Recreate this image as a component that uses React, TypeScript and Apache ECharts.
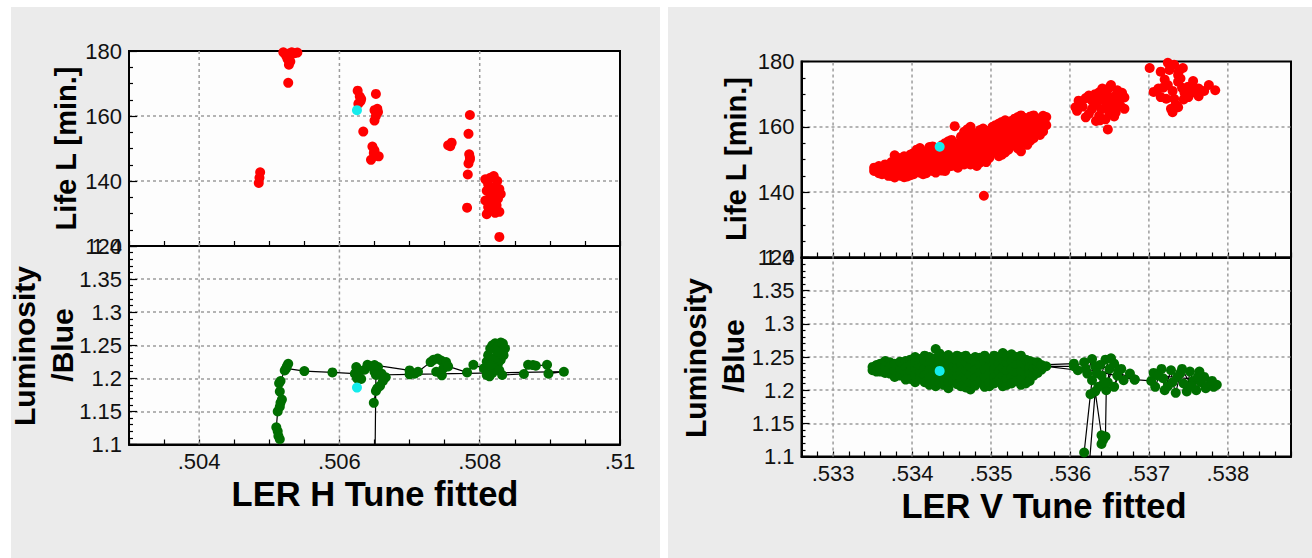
import React, { useEffect, useRef } from "react";
import * as echarts from "echarts";

const FONT = '"Liberation Sans", Arial, Helvetica, sans-serif';

// ---------- axis ticks / labels ----------
const LH_RANGE = [0.503, 0.51];
const LH_MINOR_STEP = 0.0005;
const LH_LABEL_STEP = 0.002;
const LH_GRIDX = [0.504, 0.506, 0.508];

const RV_RANGE = [0.5326, 0.5388];
const RV_MINOR_STEP = 0.0002;
const RV_LABEL_STEP = 0.001;
const RV_GRIDX = [0.533, 0.534, 0.535, 0.536, 0.537, 0.538];

const LIFE_RANGE = [120, 180];
const LIFE_STEP = 20;
const LUMI_RANGE = [1.1, 1.4];
const LUMI_STEP = 0.05;

// ---------- left panel: LER H tune ----------
const LH_LIFE: number[][] = [
  [0.5052, 179.6], [0.50524, 178.5], [0.50528, 179.2], [0.50532, 179.6], [0.50536, 179.3], [0.5054, 179.5],
  [0.50526, 177.5], [0.5053, 176.8], [0.50528, 175.8], [0.50527, 170.2],
  [0.50487, 142.7], [0.50485, 139.4], [0.50486, 141.0],
  [0.50626, 167.8], [0.50629, 166.0], [0.5063, 164.5], [0.50627, 163.8], [0.50631, 165.2],
  [0.50634, 155.2],
  [0.50652, 166.8], [0.5065, 161.8], [0.50655, 161.2], [0.50652, 160.0], [0.5065, 158.6], [0.50654, 162.2],
  [0.50647, 150.6], [0.5065, 149.4], [0.50645, 146.5], [0.50652, 147.8], [0.50656, 147.6], [0.50649, 148.6],
  [0.50755, 151.0], [0.5076, 151.8], [0.50758, 150.7],
  [0.50786, 160.3], [0.50784, 154.5], [0.50785, 148.2], [0.50786, 146.6], [0.50784, 145.4], [0.50786, 147.2],
  [0.50783, 142.0], [0.50782, 131.8],
  [0.50808, 140.5], [0.50812, 139.0], [0.50815, 141.0], [0.5082, 141.5], [0.50825, 140.0], [0.5081, 137.0],
  [0.50818, 138.0], [0.50822, 136.5], [0.50828, 137.5], [0.50808, 134.0], [0.50815, 135.0], [0.5082, 133.5],
  [0.50826, 134.5], [0.5083, 136.0], [0.50812, 132.0], [0.50818, 131.0], [0.50824, 132.5], [0.50828, 130.5],
  [0.5081, 129.8], [0.50822, 130.2],
  [0.50828, 122.8],
];
const LH_LIFE_NOW: number[][] = [[0.50625, 161.8]];

const LH_LUMI: number[][] = [
  [0.50515, 1.108], [0.50513, 1.113], [0.50512, 1.12], [0.5051, 1.126], [0.50512, 1.15], [0.50515, 1.157],
  [0.50516, 1.163], [0.50518, 1.168], [0.50515, 1.18], [0.50514, 1.1925], [0.50516, 1.196], [0.50522, 1.212],
  [0.50525, 1.218], [0.50527, 1.222], [0.50524, 1.215],
  [0.5055, 1.211], [0.5059, 1.209], [0.50622, 1.207],
  [0.50624, 1.217], [0.50628, 1.212], [0.50625, 1.2], [0.50631, 1.199], [0.50636, 1.213], [0.5064, 1.2204],
  [0.50646, 1.218], [0.5065, 1.21], [0.50655, 1.217], [0.5066, 1.207], [0.50666, 1.2015], [0.50662, 1.196],
  [0.50658, 1.1887], [0.50652, 1.181], [0.50649, 1.163], [0.50654, 1.185], [0.5066, 1.205], [0.5065, 1.22],
  [0.507, 1.212], [0.50707, 1.207], [0.50712, 1.21], [0.5073, 1.2245], [0.50734, 1.228], [0.5074, 1.23],
  [0.50745, 1.227], [0.50752, 1.2245], [0.50748, 1.215], [0.50746, 1.2045], [0.50738, 1.21], [0.50755, 1.218],
  [0.50782, 1.209], [0.50791, 1.2204],
  [0.50806, 1.215], [0.5081, 1.225], [0.50812, 1.235], [0.50815, 1.245], [0.50818, 1.25], [0.50822, 1.253],
  [0.50826, 1.25], [0.5083, 1.254], [0.50833, 1.2526], [0.50836, 1.245], [0.50834, 1.235], [0.5083, 1.228],
  [0.50826, 1.222], [0.50822, 1.215], [0.50818, 1.208], [0.50814, 1.203], [0.5081, 1.205], [0.5082, 1.23],
  [0.50825, 1.24], [0.50815, 1.22], [0.50828, 1.212], [0.50832, 1.205],
  [0.50863, 1.2066], [0.50869, 1.2204], [0.50876, 1.22], [0.5088, 1.219], [0.50896, 1.2204], [0.50898, 1.207],
  [0.5092, 1.21],
  [0.507, 1.206], [0.50652, 1.205], [0.5065, 1.0],
];
const LH_LUMI_NOW: number[][] = [[0.50625, 1.186]];

// ---------- right panel: LER V tune ----------
const RV_LIFE_COLS: [number, number[]][] = [
  [0.53352, [146.5, 147.5]],
  [0.53358, [148.0, 145.8]],
  [0.53362, [147.0, 145.5]],
  [0.53366, [148.5, 146.2]],
  [0.5337, [148.0, 145.0, 146.5]],
  [0.53374, [149.2, 147.0, 145.0]],
  [0.53378, [151.3, 148.5, 144.5]],
  [0.53382, [150.5, 148.0, 146.0]],
  [0.53386, [149.5, 147.0, 145.0]],
  [0.5339, [151.0, 148.8, 146.5, 144.6]],
  [0.53394, [150.0, 148.0, 144.8, 146.5]],
  [0.53398, [151.5, 149.5, 147.2, 145.2]],
  [0.53402, [152.0, 149.5, 147.0, 145.5]],
  [0.53406, [153.0, 150.8, 148.5, 146.2]],
  [0.5341, [153.5, 151.0, 148.5, 146.0]],
  [0.53414, [152.2, 149.8, 147.4, 145.5]],
  [0.53418, [152.5, 150.0, 147.5, 145.8]],
  [0.53422, [153.8, 151.2, 148.8, 146.8]],
  [0.53426, [154.0, 151.5, 149.0, 146.5]],
  [0.5343, [153.0, 150.6, 148.2, 146.0]],
  [0.53434, [152.0, 150.0, 147.5]],
  [0.53438, [154.4, 151.0, 148.6, 146.6]],
  [0.53442, [155.0, 151.5, 149.0, 146.5]],
  [0.53446, [155.6, 153.0, 150.5, 147.8]],
  [0.5345, [156.0, 153.0, 150.5, 148.0]],
  [0.53454, [160.2, 155.0, 152.2, 149.4]],
  [0.53458, [154.5, 152.0, 149.5, 147.5]],
  [0.53462, [157.0, 154.6, 151.8, 149.2]],
  [0.53466, [158.5, 156.0, 153.0, 150.5, 148.5]],
  [0.5347, [159.2, 156.5, 153.8, 151.5, 149.0]],
  [0.53474, [160.0, 157.0, 154.0, 151.0, 148.5]],
  [0.53478, [157.8, 155.2, 152.5, 150.0]],
  [0.53482, [158.0, 155.5, 153.0, 150.5, 148.0]],
  [0.53486, [159.0, 156.4, 153.8, 151.2, 149.0]],
  [0.5349, [159.5, 157.0, 154.5, 152.0]],
  [0.53491, [138.9]],
  [0.53494, [158.8, 156.2, 153.6, 151.0, 149.2]],
  [0.53498, [158.5, 156.0, 153.5, 150.5]],
  [0.53502, [160.0, 157.4, 154.8, 152.2]],
  [0.53506, [160.5, 158.0, 155.5, 153.0]],
  [0.5351, [161.0, 158.6, 156.0, 153.4, 151.0]],
  [0.53514, [161.5, 159.0, 156.5, 154.0, 151.5]],
  [0.53518, [162.0, 159.6, 157.2, 154.6, 152.2]],
  [0.53522, [160.5, 158.0, 155.5, 153.0]],
  [0.53526, [161.8, 159.4, 156.8, 154.2]],
  [0.5353, [162.5, 160.0, 157.5, 155.0]],
  [0.53534, [163.0, 160.6, 158.0, 155.6, 153.4]],
  [0.53538, [163.5, 161.0, 158.5, 156.0, 152.5]],
  [0.53542, [162.8, 160.2, 157.8, 155.2]],
  [0.53546, [162.0, 159.5, 157.0, 154.5]],
  [0.5355, [163.2, 160.6, 158.0, 155.8]],
  [0.53554, [163.5, 161.0, 158.5, 156.5]],
  [0.53558, [162.6, 160.2, 157.8]],
  [0.53562, [162.0, 160.0, 157.5]],
  [0.53566, [163.4, 161.0, 158.6]],
  [0.5357, [163.0, 160.5]],
];
const RV_LIFE_B: number[][] = [
  [0.53607, 166.0], [0.53609, 164.9], [0.53611, 168.0], [0.5362, 162.9], [0.53624, 169.6], [0.53628, 165.5],
  [0.53633, 166.9], [0.53633, 161.8], [0.53637, 170.6], [0.53637, 163.4], [0.53641, 171.7], [0.53645, 166.0],
  [0.53645, 162.3], [0.53648, 159.2], [0.53652, 172.8], [0.53654, 169.1], [0.53654, 166.0], [0.53658, 164.4],
  [0.5366, 171.2], [0.53662, 168.6], [0.53669, 169.0], [0.53669, 165.5], [0.5364, 168.5], [0.53628, 168.0],
  [0.5365, 164.0], [0.53616, 166.2], [0.5362, 168.8], [0.53624, 164.0], [0.53632, 170.0], [0.53636, 168.0],
  [0.5364, 165.4], [0.53646, 170.2], [0.53648, 167.8], [0.5365, 172.0], [0.53658, 167.2], [0.53664, 166.4],
  [0.53666, 170.4], [0.53638, 162.0], [0.53656, 163.2],
];
const RV_LIFE_C: number[][] = [
  [0.53701, 178.0], [0.53715, 176.9], [0.53724, 179.6], [0.53732, 179.0], [0.53743, 178.0], [0.53737, 175.9],
  [0.53706, 170.7], [0.53712, 171.7], [0.53724, 172.8], [0.53737, 173.8], [0.5375, 172.3], [0.53763, 171.7],
  [0.53776, 172.8], [0.53784, 171.2], [0.53715, 169.1], [0.53732, 168.6], [0.5375, 169.1], [0.53763, 169.4],
  [0.53728, 165.5], [0.53737, 166.0], [0.5373, 164.5], [0.5372, 174.5], [0.53745, 170.5], [0.53756, 174.0],
  [0.53726, 177.4], [0.53738, 177.0], [0.53718, 172.0], [0.5373, 171.0], [0.53742, 172.0], [0.53756, 170.6],
  [0.5377, 171.0], [0.53722, 168.6], [0.53744, 168.4], [0.53756, 172.2], [0.53734, 166.8], [0.5374, 174.8],
];
const RV_LIFE_NOW: number[][] = [[0.53435, 153.9]];

const RV_LUMI_COLS: [number, number[]][] = [
  [0.5335, [1.235, 1.23]],
  [0.53355, [1.238, 1.228]],
  [0.5336, [1.228, 1.24, 1.232]],
  [0.53366, [1.236, 1.226, 1.244]],
  [0.53372, [1.242, 1.235, 1.225]],
  [0.53378, [1.22, 1.23, 1.24]],
  [0.53385, [1.222, 1.232, 1.243]],
  [0.53392, [1.244, 1.234, 1.224, 1.216]],
  [0.53398, [1.246, 1.238, 1.228, 1.217]],
  [0.53404, [1.212, 1.222, 1.232, 1.242, 1.25]],
  [0.5341, [1.219, 1.228, 1.238, 1.247]],
  [0.53416, [1.252, 1.243, 1.233, 1.222, 1.212]],
  [0.53422, [1.25, 1.24, 1.23, 1.22, 1.208]],
  [0.5343, [1.206, 1.214, 1.224, 1.236, 1.248, 1.262]],
  [0.53435, [1.255, 1.245, 1.232, 1.22, 1.21]],
  [0.5344, [1.25, 1.24, 1.23, 1.218, 1.208]],
  [0.53446, [1.203, 1.213, 1.223, 1.234, 1.245, 1.253]],
  [0.53452, [1.214, 1.226, 1.238, 1.248]],
  [0.53457, [1.252, 1.244, 1.232, 1.22, 1.209]],
  [0.53462, [1.25, 1.24, 1.228, 1.216, 1.206]],
  [0.53468, [1.204, 1.218, 1.23, 1.242, 1.252]],
  [0.53474, [1.201, 1.212, 1.224, 1.236, 1.247]],
  [0.5348, [1.25, 1.242, 1.23, 1.218, 1.207]],
  [0.53486, [1.249, 1.238, 1.226, 1.214]],
  [0.53492, [1.205, 1.22, 1.232, 1.243, 1.252]],
  [0.53498, [1.206, 1.212, 1.224, 1.236, 1.247]],
  [0.53504, [1.252, 1.244, 1.232, 1.22, 1.21]],
  [0.5351, [1.25, 1.24, 1.228, 1.216]],
  [0.53515, [1.206, 1.222, 1.234, 1.246, 1.256]],
  [0.5352, [1.208, 1.218, 1.23, 1.242, 1.252]],
  [0.53526, [1.254, 1.244, 1.232, 1.22, 1.21]],
  [0.53532, [1.25, 1.238, 1.226, 1.214]],
  [0.53538, [1.208, 1.218, 1.23, 1.242, 1.252]],
  [0.53544, [1.21, 1.224, 1.236, 1.246]],
  [0.53549, [1.244, 1.234, 1.224, 1.214]],
  [0.53554, [1.242, 1.232, 1.222]],
  [0.53559, [1.226, 1.236, 1.242]],
  [0.53564, [1.231, 1.238]],
];
const RV_LUMI_TAIL: number[][] = [
  [0.53605, 1.24], [0.5361, 1.23], [0.5357, 1.236], [0.53605, 1.236],
  [0.53618, 1.242], [0.53622, 1.225], [0.53628, 1.247], [0.53632, 1.236], [0.53628, 1.215], [0.53626, 1.194],
  [0.53618, 1.106], [0.53622, 1.05], [0.53632, 1.198], [0.5364, 1.132], [0.53642, 1.125], [0.5364, 1.119],
  [0.53645, 1.13], [0.53646, 1.2],
  [0.53636, 1.205], [0.5364, 1.222], [0.53645, 1.246], [0.5365, 1.232], [0.53648, 1.212], [0.53656, 1.24],
  [0.5366, 1.222], [0.53656, 1.205], [0.53665, 1.232], [0.53668, 1.215], [0.53676, 1.225], [0.53682, 1.216],
  [0.53638, 1.238], [0.53652, 1.248], [0.53662, 1.23], [0.53634, 1.226], [0.53644, 1.212], [0.5362, 1.232],
  [0.53682, 1.216],
  [0.53703, 1.214], [0.53706, 1.226], [0.53708, 1.205], [0.53716, 1.232], [0.53718, 1.218], [0.5372, 1.2],
  [0.53728, 1.23], [0.5373, 1.212], [0.53734, 1.196], [0.5374, 1.226], [0.53744, 1.21], [0.53748, 1.198],
  [0.53752, 1.228], [0.53756, 1.214], [0.5376, 1.2], [0.53764, 1.228], [0.53766, 1.212], [0.5377, 1.22],
  [0.53772, 1.203], [0.53778, 1.21], [0.53782, 1.205], [0.53786, 1.208], [0.5378, 1.214],
  [0.53712, 1.222], [0.53724, 1.206], [0.53736, 1.22], [0.53742, 1.232], [0.53754, 1.206], [0.53762, 1.22],
];
const RV_LUMI_NOW: number[][] = [[0.53435, 1.229]];

// ---------- helpers ----------
const flatCols = (cols: [number, number[]][]) => {
  const out: number[][] = [];
  cols.forEach(([x, ys]) => ys.forEach((y) => out.push([x, y])));
  return out;
};
const isMultiple = (v: number, step: number) => Math.abs(v / step - Math.round(v / step)) < 1e-4;
const tuneFmt = (step: number) => (v: number) =>
  isMultiple(+v, step) ? String(+(+v).toFixed(3)).replace(/^0/, "") : "";

const RED = "#ff0000";
const GREEN = "#006e00";
const CYAN = "#14ecec";
const GRID_LINE = { color: "#9c9c9c", width: 1.5, type: [3, 3] };
const TICK_LINE = { color: "#000", width: 1.2 };
const AXIS_LINE = { show: true, onZero: false, lineStyle: { color: "#000", width: 2 } };
const LABEL = { fontSize: 22, color: "#111", fontFamily: FONT, margin: 6 };

function xAxisFor(gridIndex: number, range: number[], step: number, labelStep: number, labels: boolean) {
  return {
    type: "value", gridIndex, min: range[0], max: range[1], interval: step, position: "bottom",
    axisLine: AXIS_LINE,
    axisTick: { show: true, inside: true, length: 5, lineStyle: TICK_LINE },
    axisLabel: { show: labels, formatter: tuneFmt(labelStep), ...LABEL },
    splitLine: { show: false },
  };
}

function yAxisFor(gridIndex: number, range: number[], step: number, minorSplit: number, digits: number) {
  return {
    type: "value", gridIndex, min: range[0], max: range[1], interval: step, position: "left",
    axisLine: AXIS_LINE,
    axisTick: { show: true, inside: true, length: 8, lineStyle: TICK_LINE },
    minorTick: { show: true, splitNumber: minorSplit, length: 4, lineStyle: TICK_LINE },
    axisLabel: { ...LABEL, margin: 7, formatter: (v: number) => String(+(+v).toFixed(digits)) },
    splitLine: { show: true, showMinLine: false, showMaxLine: false, lineStyle: GRID_LINE },
  };
}

// vertical dashed grid lines, drawn as two-point line series on the chart's own scales
const vGridSeries = (x: number, y: number, vals: number[], yr: number[]) =>
  vals.map((v) => ({
    type: "line", xAxisIndex: x, yAxisIndex: y, z: 1, silent: true, symbol: "none",
    data: [[v, yr[0]], [v, yr[1]]], lineStyle: GRID_LINE, emphasis: { disabled: true },
  }));

const dots = (name: string, x: number, y: number, data: number[][], color: string, z = 3) => ({
  name, type: "scatter", xAxisIndex: x, yAxisIndex: y, data, symbol: "circle", symbolSize: 10, z,
  itemStyle: { color, opacity: 1 }, silent: true, emphasis: { disabled: true },
});

const trace = (name: string, x: number, y: number, data: number[][]) => ({
  name, type: "line", xAxisIndex: x, yAxisIndex: y, data, symbol: "circle", symbolSize: 10, z: 3,
  showSymbol: true, clip: true,
  itemStyle: { color: GREEN, opacity: 1 }, lineStyle: { color: "#000", width: 1.2 },
  silent: true, emphasis: { disabled: true },
});

const rotText = (text: string, x: number, y: number, size: number) => ({
  type: "text", x, y, rotation: Math.PI / 2, z: 10,
  style: { text, fontSize: size, fontWeight: "bold", fontFamily: FONT, fill: "#000", align: "center", verticalAlign: "middle" },
});
const flatText = (text: string, x: number, y: number, size: number) => ({
  type: "text", x, y, z: 10,
  style: { text, fontSize: size, fontWeight: "bold", fontFamily: FONT, fill: "#000", align: "center", verticalAlign: "middle" },
});

export default function App() {
  const ref = useRef<HTMLDivElement>(null);
  useEffect(() => {
    document.body.style.margin = "0";
    const chart = echarts.init(ref.current!, null, { renderer: "svg" });
    const gridStyle = { show: true, backgroundColor: "#fdfdfd", borderColor: "#000", borderWidth: 2 };
    chart.setOption({
      animation: false,
      backgroundColor: "#ffffff",
      textStyle: { fontFamily: FONT },
      grid: [
        { left: 129, top: 51, width: 491, height: 195, ...gridStyle },
        { left: 129, top: 246, width: 491, height: 198.5, ...gridStyle },
        { left: 801.5, top: 61.5, width: 489.5, height: 196, ...gridStyle },
        { left: 801.5, top: 257.5, width: 489.5, height: 199, ...gridStyle },
      ],
      xAxis: [
        xAxisFor(0, LH_RANGE, LH_MINOR_STEP, LH_LABEL_STEP, false),
        xAxisFor(1, LH_RANGE, LH_MINOR_STEP, LH_LABEL_STEP, true),
        xAxisFor(2, RV_RANGE, RV_MINOR_STEP, RV_LABEL_STEP, false),
        xAxisFor(3, RV_RANGE, RV_MINOR_STEP, RV_LABEL_STEP, true),
      ],
      yAxis: [
        yAxisFor(0, LIFE_RANGE, LIFE_STEP, 4, 0),
        yAxisFor(1, LUMI_RANGE, LUMI_STEP, 5, 2),
        yAxisFor(2, LIFE_RANGE, LIFE_STEP, 4, 0),
        yAxisFor(3, LUMI_RANGE, LUMI_STEP, 5, 2),
      ],
      graphic: [
        { type: "rect", z: -10, shape: { x: 11, y: 7, width: 649, height: 551 }, style: { fill: "#ebebeb" } },
        { type: "rect", z: -10, shape: { x: 668, y: 7, width: 644, height: 551 }, style: { fill: "#ebebeb" } },
        flatText("LER H Tune fitted", 375, 494, 34.5),
        flatText("LER V Tune fitted", 1044, 506, 34.5),
        rotText("Life L [min.]", 66, 148.5, 29),
        rotText("Luminosity", 24, 346, 30),
        rotText("/Blue", 62.5, 345, 30),
        rotText("Life L [min.]", 735.5, 159, 29),
        rotText("Luminosity", 695, 358, 30),
        rotText("/Blue", 733, 356, 30),
      ],
      series: [
        ...vGridSeries(0, 0, LH_GRIDX, LIFE_RANGE),
        ...vGridSeries(1, 1, LH_GRIDX, LUMI_RANGE),
        ...vGridSeries(2, 2, RV_GRIDX, LIFE_RANGE),
        ...vGridSeries(3, 3, RV_GRIDX, LUMI_RANGE),
        dots("LER H life", 0, 0, LH_LIFE, RED),
        dots("LER H life now", 0, 0, LH_LIFE_NOW, CYAN, 4),
        trace("LER H lumi", 1, 1, LH_LUMI),
        dots("LER H lumi now", 1, 1, LH_LUMI_NOW, CYAN, 4),
        dots("LER V life", 2, 2, [...flatCols(RV_LIFE_COLS), ...RV_LIFE_B, ...RV_LIFE_C], RED),
        dots("LER V life now", 2, 2, RV_LIFE_NOW, CYAN, 4),
        trace("LER V lumi", 3, 3, [...flatCols(RV_LUMI_COLS), ...RV_LUMI_TAIL]),
        dots("LER V lumi now", 3, 3, RV_LUMI_NOW, CYAN, 4),
      ],
    });
    return () => chart.dispose();
  }, []);
  return <div ref={ref} style={{ width: 1312, height: 558 }} />;
}
